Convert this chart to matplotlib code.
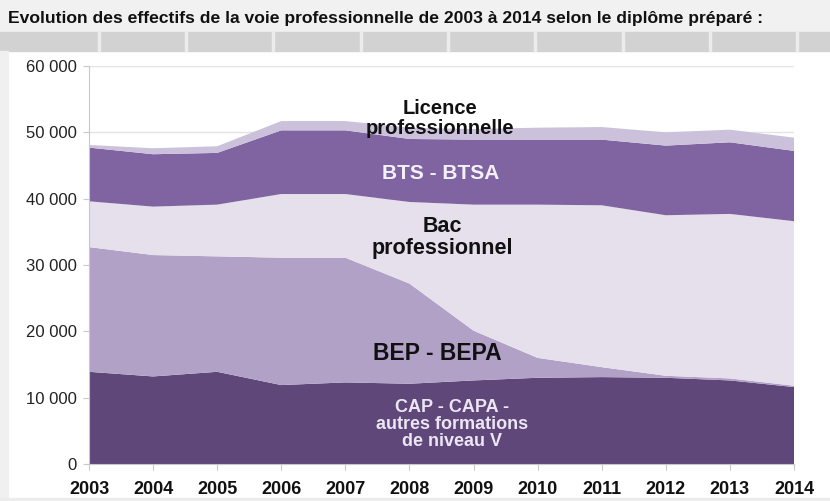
import numpy as np
import matplotlib.pyplot as plt
from matplotlib.patches import Rectangle

# Effectifs par diplome prepare
years = [2003, 2004, 2005, 2006, 2007, 2008, 2009, 2010, 2011, 2012, 2013, 2014]
cap = [13900, 13200, 13900, 11900, 12300, 12100, 12600, 13000, 13100, 13000, 12600, 11600]
bep = [18800, 18300, 17400, 19200, 18800, 15100, 7500, 3000, 1500, 300, 300, 200]
bac = [6900, 7300, 7800, 9600, 9600, 12300, 19000, 23100, 24400, 24200, 24800, 24800]
bts = [8100, 7900, 7800, 9600, 9600, 9500, 9800, 9800, 9900, 10500, 10800, 10600]
licence = [400, 900, 1000, 1400, 1400, 1700, 1600, 1800, 1900, 2000, 1900, 2000]

yticks = [0, 10000, 20000, 30000, 40000, 50000, 60000]
ytick_labels = ["0", "10 000", "20 000", "30 000", "40 000", "50 000", "60 000"]

colors = ["#5f4779", "#b2a1c7", "#e5e0ec", "#8064a2", "#ccc1da"]

plt.rcParams['font.family'] = ['Liberation Sans', 'DejaVu Sans']

W, H = 830, 501
fig = plt.figure(figsize=(W / 100, H / 100), dpi=100)
fig.patch.set_facecolor("white")

# decor autour du titre (bandeau gris type tableau)
fig.patches.append(Rectangle((0, 1 - 32 / H), 1, 32 / H, transform=fig.transFigure,
                             color="#f1f1f1", zorder=0))
fig.patches.append(Rectangle((0, 1 - 51 / H), 1, 19 / H, transform=fig.transFigure,
                             color="#d2d2d2", zorder=0))
for xs in [98, 185, 272, 360, 447, 534, 622, 709, 796]:
    fig.patches.append(Rectangle((xs / W, 1 - 51 / H), 2 / W, 19 / H, transform=fig.transFigure,
                                 color="#ececec", zorder=1))
fig.patches.append(Rectangle((0, 0), 8 / W, 1 - 51 / H, transform=fig.transFigure,
                             color="#f0f0f0", zorder=0))
fig.patches.append(Rectangle((0, 0), 1, 3 / H, transform=fig.transFigure,
                             color="#ececec", zorder=0))

fig.text(8 / W, 1 - 18 / H, "Evolution des effectifs de la voie professionnelle de 2003 à 2014 selon le diplôme préparé :",
         fontsize=12.6, fontweight="bold", color="#111111", va="center", ha="left")

ax = fig.add_axes([89 / W, 37 / H, (794 - 89) / W, (464 - 66) / H])
ax.set_facecolor("none")
ax.stackplot(years, cap, bep, bac, bts, licence, colors=colors, linewidth=0, zorder=2)

ax.set_xlim(2003, 2014)
ax.set_ylim(0, 60000)
ax.set_yticks(yticks)
ax.set_yticklabels(ytick_labels, fontsize=12, color="#222222")
ax.set_xticks(years)
ax.set_xticklabels([str(y) for y in years], fontsize=13, fontweight="bold", color="#111111")
ax.yaxis.grid(True, color="#e4e4e4", linewidth=1, zorder=0)
ax.set_axisbelow(True)

for s in ["top", "right"]:
    ax.spines[s].set_visible(False)
for s in ["left", "bottom"]:
    ax.spines[s].set_color("#c8c8c8")
ax.tick_params(axis="both", length=4, color="#c8c8c8", direction="out")
ax.tick_params(axis="y", pad=5)
ax.tick_params(axis="x", pad=8)

# etiquettes des series
ax.text(2008.48, 52100, "Licence\nprofessionnelle", fontsize=14.5, fontweight="bold",
        color="#111111", ha="center", va="center", linespacing=1.05)
ax.text(2008.49, 43800, "BTS - BTSA", fontsize=15, fontweight="bold",
        color="#f4f0f8", ha="center", va="center")
ax.text(2008.52, 34100, "Bac\nprofessionnel", fontsize=15.5, fontweight="bold",
        color="#111111", ha="center", va="center", linespacing=1.05)
ax.text(2008.44, 16600, "BEP - BEPA", fontsize=16.5, fontweight="bold",
        color="#111111", ha="center", va="center")
ax.text(2008.66, 6000, "CAP - CAPA -\nautres formations\nde niveau V", fontsize=13,
        fontweight="bold", color="#ece6f4", ha="center", va="center", linespacing=1.0)

fig.savefig("out.png", dpi=100)
